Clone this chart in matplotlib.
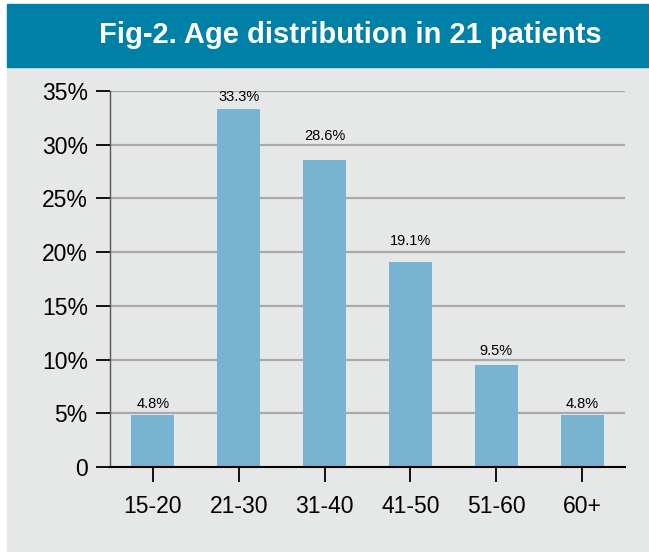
import matplotlib
matplotlib.use("Agg")
import matplotlib.pyplot as plt
from matplotlib.patches import Rectangle
from matplotlib.transforms import offset_copy

categories = ["15-20", "21-30", "31-40", "41-50", "51-60", "60+"]
values = [4.8, 33.3, 28.6, 19.1, 9.5, 4.8]
value_labels = ["4.8%", "33.3%", "28.6%", "19.1%", "9.5%", "4.8%"]
yticks = [0, 5, 10, 15, 20, 25, 30, 35]
ytick_labels = ["0", "5%", "10%", "15%", "20%", "25%", "30%", "35%"]
title = "Fig-2. Age distribution in 21 patients"

# label offsets above bar tops (pixels), as placed in the original
label_offsets_px = [11, 12, 24, 21, 14, 11]

plt.rcParams['font.family'] = ['Liberation Sans', 'DejaVu Sans']

W, H = 649, 552
fig = plt.figure(figsize=(W / 100, H / 100), dpi=100)
fig.patch.set_facecolor("white")

# panel background and title band
fig.patches.append(Rectangle((7 / W, 0), 1 - 7 / W, (H - 67) / H,
                             transform=fig.transFigure, color="#e6e7e7", zorder=-2))
fig.patches.append(Rectangle((7 / W, (H - 67) / H), 1 - 7 / W, 63 / H,
                             transform=fig.transFigure, color="#0080a6", zorder=-2))
fig.text(350 / W, (H - 35) / H, title, color="white", fontsize=21,
         fontweight="bold", ha="center", va="center")

ax = fig.add_axes([110 / W, (H - 467) / H, (625 - 110) / W, (467 - 91) / H])
ax.set_facecolor("none")
ax.set_zorder(1)

x = list(range(len(categories)))
ax.bar(x, values, width=0.5, color="#78b4d2", zorder=3)

ax.set_xlim(-0.5, 5.5)
ax.set_ylim(0, 35)
ax.set_yticks(yticks)
ax.set_yticklabels(ytick_labels)
ax.set_xticks(x)
ax.set_xticklabels(categories)

for yv in yticks[1:]:
    ax.axhline(yv, color="#a9a9a9", lw=1.6, zorder=1)

for s in ["top", "right"]:
    ax.spines[s].set_visible(False)
ax.spines["left"].set_color("#555555")
ax.spines["left"].set_linewidth(1.0)
ax.spines["bottom"].set_color("black")
ax.spines["bottom"].set_linewidth(1.5)
ax.spines["bottom"].set_zorder(4)

ax.tick_params(axis="y", length=10, width=1.3, color="black", labelsize=16.5,
               pad=6, direction="out")
ax.tick_params(axis="x", length=11, width=1.3, color="black", labelsize=16.5,
               pad=9.5, direction="out")

for xi, v, lab, off in zip(x, values, value_labels, label_offsets_px):
    tr = offset_copy(ax.transData, fig=fig, x=0, y=off * 72 / 100, units="points")
    ax.text(xi, v, lab, transform=tr, ha="center", va="center", fontsize=10.5,
            color="black", zorder=5)

fig.savefig("out.png", dpi=100)
